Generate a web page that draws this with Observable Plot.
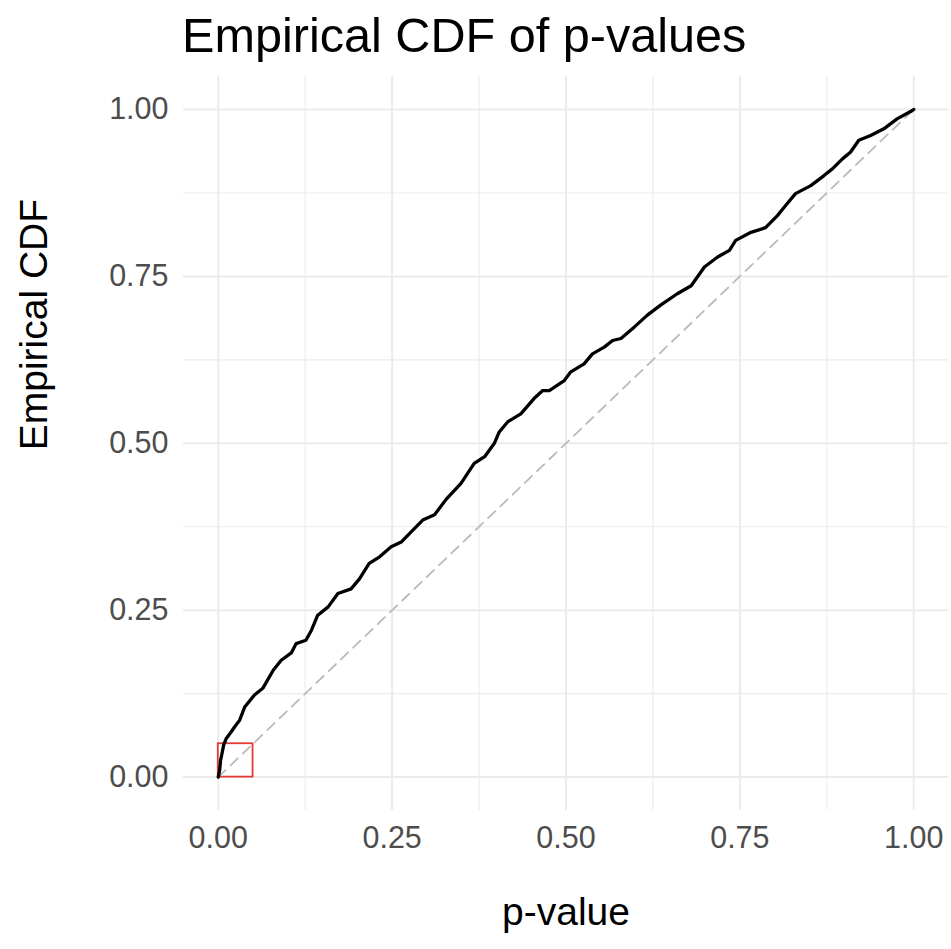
<!DOCTYPE html>
<html>
<head>
<meta charset="utf-8">
<script src="https://cdn.jsdelivr.net/npm/d3@7"></script>
<script src="https://cdn.jsdelivr.net/npm/@observablehq/plot@0.6"></script>
<style>
  html, body { margin: 0; padding: 0; background: #ffffff; }
  body { width: 951px; height: 949px; overflow: hidden; font-family: "Liberation Sans", Arial, sans-serif; }
  #title { position: relative; height: 70px; }
  #title span { position: absolute; left: 182px; top: 11px; font-size: 48.6px; line-height: 48px; color: #000; white-space: nowrap; }
  #chart svg { display: block; }
</style>
</head>
<body>
<div id="title"><span>Empirical CDF of p-values</span></div>
<div id="chart"></div>
<script>
// Empirical CDF curve
const pValues = [0, 0.002, 0.0033, 0.0053, 0.0077, 0.0115, 0.0187, 0.0234, 0.0306, 0.038, 0.052, 0.064, 0.079, 0.0905, 0.105, 0.112, 0.126, 0.134, 0.143, 0.158, 0.172, 0.191, 0.203, 0.217, 0.232, 0.2486, 0.263, 0.277, 0.294, 0.311, 0.3276, 0.349, 0.368, 0.383, 0.397, 0.404, 0.416, 0.435, 0.454, 0.4665, 0.476, 0.4975, 0.507, 0.526, 0.538, 0.555, 0.567, 0.579, 0.598, 0.617, 0.636, 0.660, 0.680, 0.699, 0.718, 0.735, 0.744, 0.766, 0.787, 0.804, 0.814, 0.830, 0.852, 0.871, 0.883, 0.8975, 0.909, 0.921, 0.938, 0.957, 0.976, 0.998, 1];
const ecdfValues = [0, 0.0105, 0.025, 0.035, 0.048, 0.058, 0.068, 0.075, 0.085, 0.105, 0.123, 0.133, 0.160, 0.175, 0.186, 0.200, 0.205, 0.220, 0.2425, 0.255, 0.275, 0.282, 0.297, 0.320, 0.330, 0.345, 0.352, 0.367, 0.385, 0.393, 0.416, 0.440, 0.470, 0.480, 0.500, 0.517, 0.532, 0.544, 0.567, 0.579, 0.579, 0.594, 0.607, 0.619, 0.634, 0.644, 0.654, 0.657, 0.674, 0.692, 0.707, 0.724, 0.736, 0.764, 0.779, 0.789, 0.804, 0.816, 0.823, 0.841, 0.854, 0.874, 0.886, 0.901, 0.911, 0.926, 0.936, 0.954, 0.961, 0.971, 0.986, 0.9985, 1];

// Uniform reference (diagonal) and highlighted box
const diagonalX = [0, 1];
const diagonalY = [0, 1];
const boxX = [0, 0.05];
const boxY = [0, 0.05];

// Ticks and gridlines
const majorTicks = [0, 0.25, 0.5, 0.75, 1];
const minorTicks = [0.125, 0.375, 0.625, 0.875];
const axisDomain = [-0.05, 1.05];

const xLabel = "p-value";
const yLabel = "Empirical CDF";

const curve = pValues.map((p, i) => ({p, f: ecdfValues[i]}));
const diagonal = diagonalX.map((x, i) => ({x, y: diagonalY[i]}));
const box = [{x1: boxX[0], x2: boxX[1], y1: boxY[0], y2: boxY[1]}];

const chart = Plot.plot({
  width: 951,
  height: 879,
  marginTop: 5.6,
  marginBottom: 139,
  marginLeft: 183,
  marginRight: 3,
  style: {fontFamily: "'Liberation Sans', Arial, sans-serif", fontSize: "30px", background: "#ffffff", overflow: "visible"},
  x: {domain: axisDomain},
  y: {domain: axisDomain},
  marks: [
    Plot.ruleX(minorTicks, {stroke: "#ebebeb", strokeWidth: 1.1}),
    Plot.ruleY(minorTicks, {stroke: "#ebebeb", strokeWidth: 1.1}),
    Plot.ruleX(majorTicks, {stroke: "#ebebeb", strokeWidth: 2}),
    Plot.ruleY(majorTicks, {stroke: "#ebebeb", strokeWidth: 2}),
    Plot.axisX(majorTicks, {tickSize: 0, tickPadding: 16, tickFormat: d3.format(".2f"), color: "#4d4d4d", fontSize: 30.5, label: null}),
    Plot.axisY(majorTicks, {tickSize: 0, tickPadding: 15, tickFormat: d3.format(".2f"), color: "#4d4d4d", fontSize: 30.5, label: null}),
    Plot.line(diagonal, {x: "x", y: "y", stroke: "#bababa", strokeWidth: 1.8, strokeDasharray: "10,7"}),
    Plot.rect(box, {x1: "x1", x2: "x2", y1: "y1", y2: "y2", fill: "none", stroke: "#e53935", strokeWidth: 1.8}),
    Plot.line(curve, {x: "p", y: "f", stroke: "#000000", strokeWidth: 3.3, strokeLinejoin: "round"}),
    Plot.text([xLabel], {frameAnchor: "bottom", dy: 114, fontSize: 39, fill: "#000000"}),
    Plot.text([yLabel], {frameAnchor: "left", rotate: -90, dx: -148.5, dy: 7, fontSize: 39, fill: "#000000"})
  ]
});
document.getElementById("chart").appendChild(chart);
</script>
</body>
</html>
